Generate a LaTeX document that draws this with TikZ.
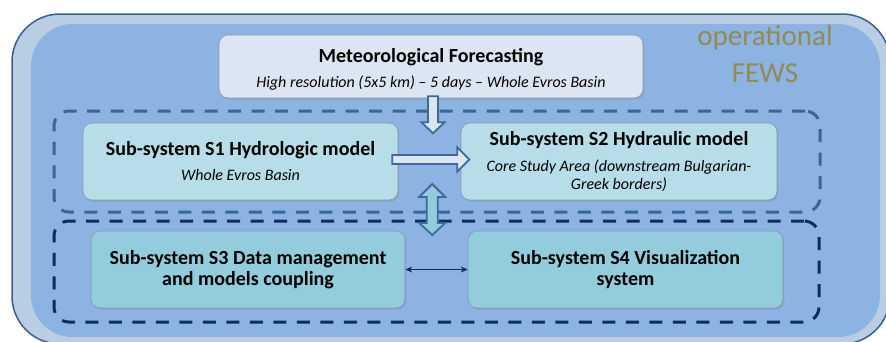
\documentclass[tikz,border=0pt]{standalone}
\usepackage{fontspec}
\setmainfont{Carlito}
\usetikzlibrary{calc,shadows,arrows.meta}

\definecolor{frameband}{HTML}{B9CDE5}
\definecolor{framefill}{HTML}{8DB3E2}
\definecolor{frameline}{HTML}{3A5F8C}
\definecolor{metfill}{HTML}{DCE6F2}
\definecolor{hydfill}{HTML}{B7DEE8}
\definecolor{datfill}{HTML}{93CDDD}
\definecolor{boxline}{HTML}{7F98B2}
\definecolor{groupA}{HTML}{3D6594}
\definecolor{groupB}{HTML}{0F2B66}
\definecolor{fewstext}{HTML}{948A54}
\definecolor{arrowline}{HTML}{41689A}

\begin{document}
\begin{tikzpicture}[x=1pt,y=-1pt,
  panel/.style={draw=boxline, line width=0.6pt, rounded corners=9pt, inner sep=0pt,
    drop shadow={opacity=0.35, shadow xshift=1.2pt, shadow yshift=-1.5pt}},
  group/.style={draw, line width=3pt, rounded corners=15pt, inner sep=0pt,
    dash pattern=on 13pt off 10.5pt},
  ttl/.style={anchor=base, font=\fontsize{20}{24}\selectfont\bfseries},
  sub/.style={anchor=base, font=\fontsize{16}{19}\selectfont\itshape},
  fews/.style={anchor=base, text=fewstext, font=\fontsize{29}{37}\selectfont},
  fatarrow/.style={draw=arrowline, line width=1.8pt, line join=miter},
]
\useasboundingbox (0,0) rectangle (886,341);
\clip (0,0) rectangle (886,341);

% outer frame of the operational system
\draw[frameline, fill=frameband, line width=1.5pt, rounded corners=48pt]
  (12,14) rectangle (890,344);
\fill[framefill, rounded corners=42pt] (31,24) rectangle (880,337);

\node[fews] (fews1) at (765,45) {operational};
\node[fews] (fews2) at (765,82) {FEWS};

% dashed sub-system groups
\node[group, draw=groupA, minimum width=766pt, minimum height=101pt] (g1) at (437,161.5) {};
\node[group, draw=groupB, minimum width=765pt, minimum height=101pt] (g2) at (436.5,271.5) {};

% forecasting input
\node[panel, fill=metfill, minimum width=424pt, minimum height=63pt] (met) at (431,66.5) {};
\node[ttl] at ($(met.center)+(0,-4.5)$) {Meteorological Forecasting};
\node[sub] at ($(met.center)+(0,20.5)$) {High resolution (5x5 km) – 5 days – Whole Evros Basin};

% models
\node[panel, fill=hydfill, minimum width=315pt, minimum height=77pt] (s1) at (240.5,161.5) {};
\node[ttl] at ($(s1.center)+(0,-6.5)$) {Sub-system S1 Hydrologic model};
\node[sub] at ($(s1.center)+(0,18.5)$) {Whole Evros Basin};

\node[panel, fill=hydfill, minimum width=316pt, minimum height=77pt] (s2) at (619,161.5) {};
\node[ttl] at ($(s2.center)+(0,-16.5)$) {Sub-system S2 Hydraulic model};
\node[sub] at ($(s2.center)+(0,9.5)$) {Core Study Area (downstream Bulgarian-};
\node[sub] at ($(s2.center)+(0,27.5)$) {Greek borders)};

% data and visualization
\node[panel, fill=datfill, minimum width=314pt, minimum height=77pt] (s3) at (248,269.5) {};
\node[ttl] at ($(s3.center)+(0,-5.5)$) {Sub-system S3 Data management};
\node[ttl] at ($(s3.center)+(0,15.5)$) {and models coupling};

\node[panel, fill=datfill, minimum width=315pt, minimum height=77pt] (s4) at (625.5,269.5) {};
\node[ttl] at ($(s4.center)+(0,-5.5)$) {Sub-system S4 Visualization};
\node[ttl] at ($(s4.center)+(0,15.5)$) {system};

% block arrows
\coordinate (down) at ($(met.south)+(2,-2)$);
\draw[fatarrow, fill=metfill, shift={(down)}]
  (-5,0) -- (-5,26) -- (-11.5,26) -- (0,37) -- (11.5,26) -- (5,26) -- (5,0) -- cycle;

\coordinate (right) at ($(s1.east)+(-6,-2)$);
\draw[fatarrow, fill=metfill, shift={(right)}]
  (0,-4.5) -- (65,-4.5) -- (65,-12) -- (77,0) -- (65,12) -- (65,4.5) -- (0,4.5) -- cycle;

\coordinate (updown) at ($(g1.south)!0.5!(g2.north)+(-4.5,-7)$);
\draw[fatarrow, fill=datfill, shift={(updown)}]
  (0,-25.5) -- (13,-12.5) -- (5.5,-12.5) -- (5.5,13.5) -- (13,13.5) -- (0,25.5)
  -- (-13,13.5) -- (-5.5,13.5) -- (-5.5,-12.5) -- (-13,-12.5) -- cycle;

% data exchange between S3 and S4
\draw[{Stealth[length=7pt,width=6pt]}-{Stealth[length=7pt,width=6pt]}, groupB, line width=1.2pt]
  (s3.east) -- (s4.west);
\end{tikzpicture}
\end{document}
